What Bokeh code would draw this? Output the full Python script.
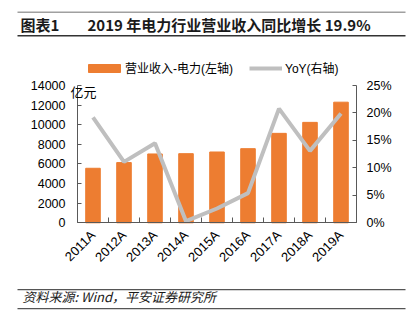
import math
from bokeh.plotting import figure
from bokeh.models import (Range1d, LinearAxis, FixedTicker, NumeralTickFormatter,
                          Legend, LegendItem, Label, BoxAnnotation, ColumnDataSource)
from bokeh.embed import file_html
from bokeh.resources import INLINE

years = ["2011A", "2012A", "2013A", "2014A", "2015A", "2016A", "2017A", "2018A", "2019A"]
revenue = [5560, 6140, 7020, 7050, 7220, 7560, 9120, 10240, 12300]
yoy = [0.192, 0.111, 0.145, 0.003, 0.026, 0.054, 0.208, 0.131, 0.199]
left_ticks = [0, 2000, 4000, 6000, 8000, 10000, 12000, 14000]
right_ticks = [0, 0.05, 0.10, 0.15, 0.20, 0.25]

title_num = "图表1"
title_text = "2019 年电力行业营业收入同比增长 19.9%"
source_text = "资料来源: Wind，平安证券研究所"
unit_text = "亿元"
bar_name = "营业收入-电力(左轴)"
line_name = "YoY(右轴)"

ORANGE = "#ED7D31"
GRAY = "#BFBFBF"
AXIS = "#595959"
FONT = "Liberation Sans, Noto Sans CJK SC"
CJK = "Noto Sans CJK SC"

W, H = 415, 329
# chart area geometry (canvas pixels, from top-left)
FL, FR, FT, FB = 77, 356, 85, 222.3
LMAX, RMAX = 14000, 0.25

n = len(years)
pos = [i + 0.5 for i in range(n)]
src = ColumnDataSource(dict(x=pos, rev=revenue, yoy=yoy, year=years))

# the frame spans the whole canvas; axes are pinned at the chart-area edges
cw = (FR - FL) / n
ly = (FB - FT) / LMAX
ry = (FB - FT) / RMAX
x_range = Range1d(-FL / cw, (W - FL) / cw)
y_range = Range1d(-(H - FB) / ly, FB / ly)
yoy_range = Range1d(-(H - FB) / ry, FB / ry)

p = figure(width=W, height=H, output_backend="svg", toolbar_location=None, title=None,
           x_range=x_range, y_range=y_range,
           min_border_left=0, min_border_right=0, min_border_top=0, min_border_bottom=0,
           background_fill_color="white", border_fill_color="white",
           x_axis_location=None, y_axis_location=None)
p.outline_line_color = None
p.grid.visible = False
p.extra_y_ranges = {"yoy": yoy_range}

bars = p.vbar(x="x", top="rev", width=0.47, color=ORANGE, source=src)
line = p.line(x="x", y="yoy", line_color=GRAY, line_width=4, y_range_name="yoy", source=src)

# x axis
xa = LinearAxis(fixed_location=0, bounds=(0, n),
                ticker=FixedTicker(ticks=pos, minor_ticks=list(range(n + 1))))
xa.major_label_overrides = {pv: y for pv, y in zip(pos, years)}
xa.major_tick_in = 0
xa.major_tick_out = 0
xa.minor_tick_in = 5
xa.minor_tick_out = 0
xa.minor_tick_line_color = AXIS
xa.axis_line_color = AXIS
xa.major_label_orientation = math.pi / 4
xa.major_label_standoff = 10
xa.major_label_text_font = FONT
xa.major_label_text_font_size = "13px"
xa.major_label_text_color = "#000000"
p.add_layout(xa, "below")

# left axis
ya = LinearAxis(fixed_location=0, bounds=(0, LMAX), ticker=FixedTicker(ticks=left_ticks))
ya.major_tick_in = 4
ya.major_tick_out = 0
ya.minor_tick_line_color = None
ya.axis_line_color = AXIS
ya.major_tick_line_color = AXIS
ya.major_label_standoff = 12
ya.major_label_text_font = FONT
ya.major_label_text_font_size = "12.5px"
ya.major_label_text_color = "#000000"
p.add_layout(ya, "left")

# right axis
ra = LinearAxis(y_range_name="yoy", fixed_location=n, bounds=(0, RMAX),
                ticker=FixedTicker(ticks=right_ticks),
                formatter=NumeralTickFormatter(format="0%"))
ra.major_tick_in = 4
ra.major_tick_out = 0
ra.minor_tick_line_color = None
ra.axis_line_color = AXIS
ra.major_tick_line_color = AXIS
ra.major_label_standoff = 10
ra.major_label_text_font = FONT
ra.major_label_text_font_size = "12.5px"
ra.major_label_text_color = "#000000"
p.add_layout(ra, "right")

def sx(cx):
    return cx

def sy(cy):
    return H - cy

leg1 = Legend(items=[LegendItem(label=bar_name, renderers=[bars])],
              location=(sx(84), sy(76)), orientation="horizontal",
              glyph_width=40, glyph_height=10, label_height=12, label_standoff=1,
              padding=0, margin=0, border_line_color=None, background_fill_alpha=0,
              label_text_font=FONT, label_text_font_size="12px", label_text_color="#000000")
leg2 = Legend(items=[LegendItem(label=line_name, renderers=[line])],
              location=(sx(249), sy(76)), orientation="horizontal",
              glyph_width=33, glyph_height=10, label_height=12, label_standoff=3,
              padding=0, margin=0, border_line_color=None, background_fill_alpha=0,
              label_text_font=FONT, label_text_font_size="12px", label_text_color="#000000")
p.add_layout(leg1)
p.add_layout(leg2)

def text(cx, cy, s, size, font=FONT, style="normal", color="#000000"):
    p.add_layout(Label(x=sx(cx), y=sy(cy), x_units="screen", y_units="screen", text=s,
                       text_font=font, text_font_size=size, text_font_style=style,
                       text_color=color, text_baseline="middle", text_align="left"))

text(70, 92, unit_text, "13px")
text(20, 24, title_num, "15px", CJK, "bold", "#1a1a1a")
text(87, 24, title_text, "15px", CJK, "bold", "#1a1a1a")
text(22, 296, source_text, "13px", CJK, "italic", "#1a1a1a")

def rule(cy, thick, color):
    p.add_layout(BoxAnnotation(left=sx(17), right=sx(405), top=sy(cy), bottom=sy(cy + thick),
                               left_units="screen", right_units="screen",
                               top_units="screen", bottom_units="screen",
                               fill_color=color, fill_alpha=1, line_color=None))

rule(11, 1.5, "#a0a0a0")
rule(34.5, 1.5, "#333333")
rule(288.5, 1.2, "#555555")
rule(307.5, 1.2, "#555555")

open("out.html", "w").write(file_html(p, INLINE))
